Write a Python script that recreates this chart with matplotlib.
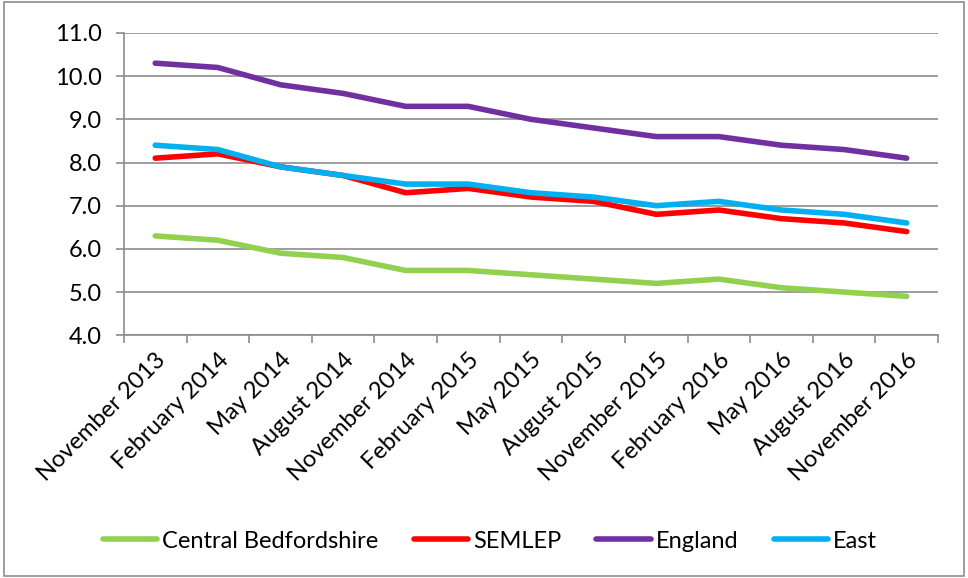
import numpy as np
import matplotlib.pyplot as plt
from matplotlib.patches import Rectangle

plt.rcParams['font.family'] = ['Lato', 'DejaVu Sans']

months = ["November 2013", "February 2014", "May 2014", "August 2014",
          "November 2014", "February 2015", "May 2015", "August 2015",
          "November 2015", "February 2016", "May 2016", "August 2016",
          "November 2016"]
central_beds = [6.3, 6.2, 5.9, 5.8, 5.5, 5.5, 5.4, 5.3, 5.2, 5.3, 5.1, 5.0, 4.9]
semlep = [8.1, 8.2, 7.9, 7.7, 7.3, 7.4, 7.2, 7.1, 6.8, 6.9, 6.7, 6.6, 6.4]
england = [10.3, 10.2, 9.8, 9.6, 9.3, 9.3, 9.0, 8.8, 8.6, 8.6, 8.4, 8.3, 8.1]
east = [8.4, 8.3, 7.9, 7.7, 7.5, 7.5, 7.3, 7.2, 7.0, 7.1, 6.9, 6.8, 6.6]

fig = plt.figure(figsize=(9.68, 5.78), dpi=100)
fig.patches.append(Rectangle((0.004, 0.004), 0.992, 0.992, transform=fig.transFigure,
                             fill=False, edgecolor="#8c8c8c", lw=1.2))
ax = fig.add_axes([0.128, 0.420, 0.841, 0.523])

x = np.arange(len(months))
series = [("Central Bedfordshire", central_beds, "#92d050"),
          ("SEMLEP", semlep, "#ff0000"),
          ("England", england, "#7030a0"),
          ("East", east, "#00b0f0")]
for name, vals, col in series:
    ax.plot(x, vals, color=col, lw=4, solid_capstyle="round", label=name)

ax.set_ylim(4, 11)
ax.set_yticks(np.arange(4, 11.01, 1))
ax.set_yticklabels([f"{v:.1f}" for v in np.arange(4, 11.01, 1)], fontsize=17)
ax.set_xlim(-0.5, len(months) - 0.5)
ax.set_xticks(x)
ax.set_xticklabels(months, rotation=45, ha="right", rotation_mode="anchor", fontsize=17)
ax.set_xticks(np.arange(-0.5, len(months), 1), minor=True)
ax.tick_params(axis="x", which="major", length=0, pad=10)
ax.tick_params(axis="x", which="minor", length=6, color="#8c8c8c", width=1.2)
ax.tick_params(axis="y", length=6, color="#8c8c8c", width=1.2, pad=10)

ax.grid(axis="y", color="#8c8c8c", lw=1.2)
ax.set_axisbelow(True)
for s in ["top", "right"]:
    ax.spines[s].set_visible(False)
for s in ["left", "bottom"]:
    ax.spines[s].set_color("#8c8c8c")
    ax.spines[s].set_linewidth(1.2)

fig.legend(loc="center", bbox_to_anchor=(0.506, 0.064), ncol=4, frameon=False,
           fontsize=17, handlelength=2.3, columnspacing=1.5, handletextpad=0.2)

fig.savefig("out.png", dpi=100)
